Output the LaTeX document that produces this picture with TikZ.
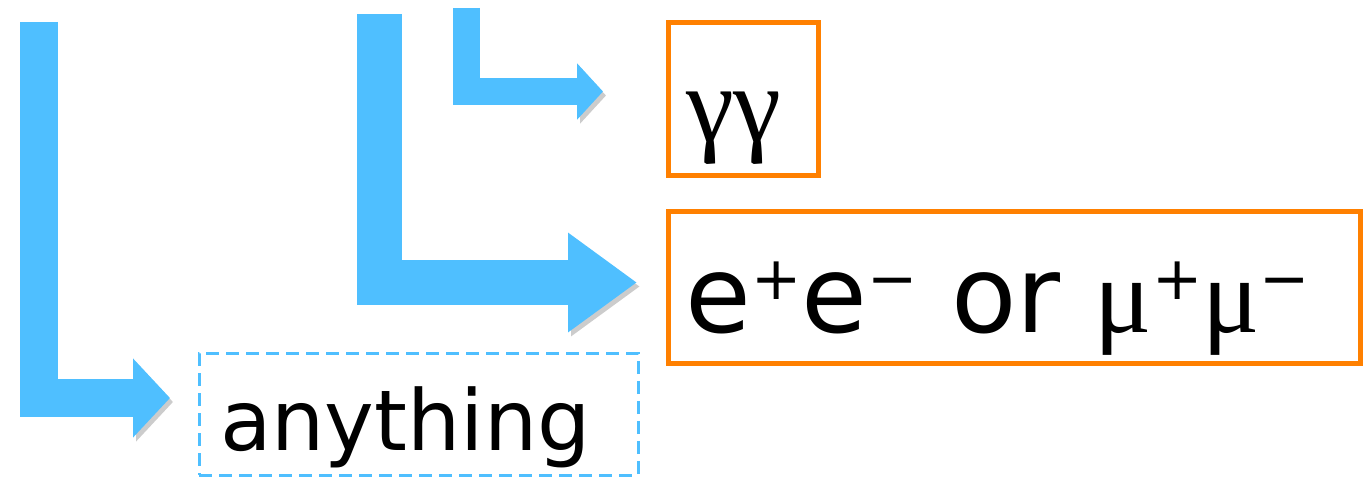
\documentclass[tikz,border=0pt]{standalone}
\usepackage{fontspec}
\usetikzlibrary{arrows.meta}
\newfontfamily\sansf{DejaVu Sans}
\newfontfamily\grk{Liberation Serif}
\definecolor{skyb}{RGB}{79,191,255}
\definecolor{orng}{RGB}{255,128,0}
\tikzstyle{obox}=[draw=orng,line width=5bp,outer sep=0pt,inner sep=0pt,anchor=north west]
\tikzstyle{dbox}=[draw=skyb,line width=3bp,dash pattern=on 13bp off 7bp,outer sep=0pt,inner sep=0pt,anchor=north west]
\tikzstyle{lbl}=[inner sep=0pt,anchor=base west]
\tikzstyle{fatarr}=[draw=skyb,line join=miter,preaction={draw=black!20,transform canvas={shift={(3bp,-4bp)}}}]
\newcommand{\sps}[1]{\raisebox{0.3em}{\fontsize{60bp}{60bp}\selectfont #1}}

\begin{document}
\begin{tikzpicture}[x=1bp,y=-1bp]
\useasboundingbox (0,0) rectangle (1363,477);
% boxes
\node[obox,minimum width=150bp,minimum height=152bp] (ggbox) at (668,23) {};
\node[obox,minimum width=692bp,minimum height=151bp] (eebox) at (668,212) {};
\node[dbox,minimum width=439bp,minimum height=122bp] (anybox) at (199,353) {};
% labels
\node[lbl,font={\grk\fontsize{108bp}{108bp}\selectfont}] (gg) at (686,142) {γγ};
\node[lbl,font={\sansf\fontsize{107bp}{107bp}\selectfont}] (ee) at (685,332) {e\sps{+}e\sps{−} or {\grk μ}\sps{+}{\grk μ}\sps{−}};
\node[lbl,font={\sansf\fontsize{84bp}{84bp}\selectfont}] (any) at (220,450) {anything};
% arrows
\coordinate (srcA) at (38.5,22);
\coordinate (srcB) at (379.5,14);
\coordinate (srcC) at (466.5,8);
\draw[fatarr,line width=38bp,-{Triangle[length=37bp,width=77bp]},shorten >=29bp] (srcA) |- ([yshift=16bp]anybox.west);
\draw[fatarr,line width=45bp,-{Triangle[length=69bp,width=95bp]},shorten >=31bp] (srcB) |- ([yshift=5bp]eebox.west);
\draw[fatarr,line width=27bp,-{Triangle[length=26bp,width=55bp]},shorten >=65bp] (srcC) |- ([yshift=7.5bp]ggbox.west);
\end{tikzpicture}
\end{document}
